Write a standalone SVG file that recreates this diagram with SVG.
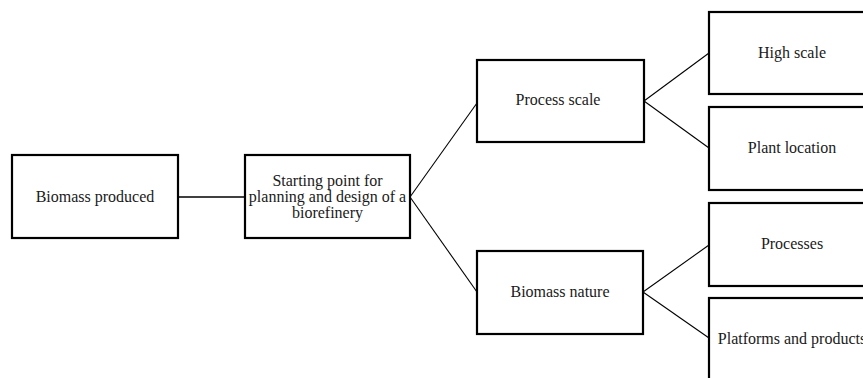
<svg xmlns="http://www.w3.org/2000/svg" width="863" height="378" viewBox="0 0 863 378">
<style>
.box{fill:#fff;stroke:#000;stroke-width:2.2}
.t{font-family:"Liberation Serif","Times New Roman",serif;font-size:16px;fill:#1a1a1a;text-anchor:middle}
.c{stroke:#000;stroke-width:1.1;fill:none}
</style>
<rect width="863" height="378" fill="#fff"/>
<g id="connectors">
<line class="c" x1="178" y1="197" x2="245" y2="197" style="stroke-width:1.6"/>
<line class="c" x1="410" y1="197" x2="477" y2="103"/>
<line class="c" x1="410" y1="197" x2="477" y2="292"/>
<line class="c" x1="644" y1="101" x2="709" y2="53"/>
<line class="c" x1="644" y1="101" x2="709" y2="148"/>
<line class="c" x1="643" y1="292" x2="709" y2="245"/>
<line class="c" x1="643" y1="292" x2="709" y2="338"/>
</g>
<g id="biomass-produced"><rect class="box" x="12" y="155" width="166" height="83"/><text class="t" x="95" y="202">Biomass produced</text></g>
<g id="starting-point"><rect class="box" x="245" y="155" width="165" height="83"/><text class="t" x="327.5" y="186">Starting point for</text><text class="t" x="327.5" y="202">planning and design of a</text><text class="t" x="327.5" y="218">biorefinery</text></g>
<g id="process-scale"><rect class="box" x="477" y="60" width="167" height="82"/><text class="t" x="558" y="105">Process scale</text></g>
<g id="biomass-nature"><rect class="box" x="477" y="251" width="166" height="83"/><text class="t" x="560" y="297">Biomass nature</text></g>
<g id="high-scale"><rect class="box" x="709" y="12" width="166" height="82"/><text class="t" x="792" y="58">High scale</text></g>
<g id="plant-location"><rect class="box" x="709" y="107" width="166" height="83"/><text class="t" x="792" y="153">Plant location</text></g>
<g id="processes"><rect class="box" x="709" y="203" width="166" height="83"/><text class="t" x="792" y="249">Processes</text></g>
<g id="platforms-products"><rect class="box" x="709" y="298" width="166" height="83"/><text class="t" x="792" y="344">Platforms and products</text></g>
</svg>
